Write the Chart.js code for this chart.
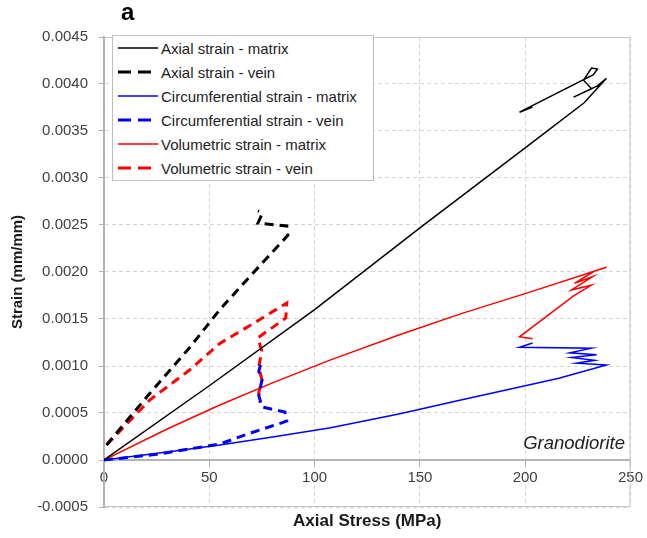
<!DOCTYPE html>
<html><head><meta charset="utf-8">
<script src="https://cdn.jsdelivr.net/npm/chart.js@4.4.1/dist/chart.umd.min.js"></script>
<style>
html,body{margin:0;padding:0;background:#fff;}
#wrap{position:relative;width:647px;height:538px;font-family:"Liberation Sans",Arial,sans-serif;overflow:hidden;}
canvas{position:absolute;left:0;top:0;}
#panel{position:absolute;left:121px;top:0px;font-size:24px;font-weight:bold;line-height:24px;color:#000;}
#rock{position:absolute;right:22px;top:434px;font-size:18.5px;font-style:italic;line-height:18px;color:#222;}
#legend{position:absolute;left:112px;top:35px;width:260px;height:144px;border:1px solid #bdbdbd;background:#fff;}
.row{height:24px;display:flex;align-items:center;font-size:15px;color:#222;white-space:nowrap;}
.row svg{margin-left:5px;margin-right:3px;flex:none;}
</style></head><body>
<div id="wrap"><canvas id="c" width="647" height="538"></canvas>
<div id="legend"></div><div id="panel">a</div><div id="rock">Granodiorite</div></div>
<script>
// ---- tick labels ----
const xTicks = [0, 50, 100, 150, 200, 250];
const yTicks = [-0.0005, 0, 0.0005, 0.001, 0.0015, 0.002, 0.0025, 0.003, 0.0035, 0.004, 0.0045];

// ---- series names ----
const seriesNames = [
  'Axial strain - matrix', 'Axial strain - vein',
  'Circumferential strain - matrix', 'Circumferential strain - vein',
  'Volumetric strain - matrix', 'Volumetric strain - vein'
];

// ---- series values (x: axial stress MPa, y: strain mm/mm) ----
const axialMatrixStress = [0, 50, 100, 150, 200, 228, 238.6, 234.3, 223.0, 231.5, 227.7, 231.5, 234.3, 232.4, 197.3, 203.5];
const axialMatrixStrain = [0, 0.00079, 0.0016, 0.00247, 0.00332, 0.0038, 0.00406, 0.00398, 0.00386, 0.00395, 0.00404, 0.00417, 0.00416, 0.0041, 0.0037, 0.003755];

const axialVeinStress = [1.2, 21.8, 40.8, 55, 70, 87.3, 86.8, 73.1, 74.5, 75.0, 73.1];
const axialVeinStrain = [0.00016, 0.00071, 0.0012, 0.0016, 0.00197, 0.00239, 0.00249, 0.00252, 0.00259, 0.00263, 0.00265];

const circMatrixStress = [0, 30, 55, 80, 107, 140, 170, 200, 216, 238.6, 224.4, 232.9, 222.0, 233.9, 221.1, 231.5, 197.3, 203.5];
const circMatrixStrain = [0, 0.000085, 0.00016, 0.000245, 0.00034, 0.00049, 0.00064, 0.00079, 0.00087, 0.00101, 0.00103, 0.00106, 0.00109, 0.00112, 0.00114, 0.00119, 0.0012, 0.001245];

const circVeinStress = [0, 25, 55, 70, 85, 86.8, 85.9, 75.0, 73.5, 75.0, 73.5, 74.5];
const circVeinStrain = [0, 0.00006, 0.00017, 0.00029, 0.0004, 0.000415, 0.00051, 0.000564, 0.00069, 0.00085, 0.00094, 0.00103];

const volMatrixStress = [0, 30, 55, 80, 107, 140, 170, 200, 238.6, 232.9, 223.4, 232.0, 222.0, 231.5, 223.0, 197.3, 203.5];
const volMatrixStrain = [0, 0.00033, 0.000585, 0.00082, 0.00106, 0.00133, 0.00156, 0.00177, 0.00205, 0.00201, 0.00188, 0.00195, 0.00181, 0.00186, 0.001745, 0.00131, 0.00129];

const volVeinStress = [1.2, 21.8, 40.8, 55, 70, 86.8, 86.3, 73.1, 74.9, 73.5, 75.0, 73.5, 74.0];
const volVeinStrain = [0.00016, 0.00064, 0.00096, 0.00124, 0.00144, 0.00167, 0.00151, 0.0013, 0.00116, 0.00099, 0.00085, 0.00072, 0.00061];

const pts = (xs, ys) => xs.map((x, i) => ({x: x, y: ys[i]}));
const BLACK = '#000000', BLUE = '#0000ff', RED = '#ff0000';
const DASH = [9, 6];

const styles = [
  {c: BLACK, w: 1.5, d: []}, {c: BLACK, w: 3, d: DASH},
  {c: BLUE, w: 1.5, d: []},  {c: BLUE, w: 3, d: DASH},
  {c: RED, w: 1.5, d: []},   {c: RED, w: 3, d: DASH}
];
const seriesData = [
  pts(axialMatrixStress, axialMatrixStrain), pts(axialVeinStress, axialVeinStrain),
  pts(circMatrixStress, circMatrixStrain), pts(circVeinStress, circVeinStrain),
  pts(volMatrixStress, volMatrixStrain), pts(volVeinStress, volVeinStrain)
];

const datasets = seriesData.map((d, i) => ({
  label: seriesNames[i], data: d, showLine: true,
  borderColor: styles[i].c, backgroundColor: styles[i].c,
  borderWidth: styles[i].w, borderDash: styles[i].d,
  pointRadius: 0, pointHoverRadius: 0, tension: 0, fill: false
}));

// HTML legend
const leg = document.getElementById('legend');
seriesNames.forEach((n, i) => {
  const row = document.createElement('div'); row.className = 'row';
  const s = styles[i];
  const dash = s.d.length ? 'stroke-dasharray="13 7"' : '';
  row.innerHTML = '<svg width="40" height="6"><line x1="0" y1="3" x2="40" y2="3" stroke="' + s.c + '" stroke-width="' + s.w + '" ' + dash + '/></svg><span>' + n + '</span>';
  leg.appendChild(row);
});

const frame = {
  id: 'frame',
  beforeDatasetsDraw(chart) {
    const {ctx, chartArea: a} = chart;
    ctx.save(); ctx.strokeStyle = '#c4c4c4'; ctx.lineWidth = 1;
    ctx.beginPath();
    ctx.moveTo(a.left, a.top + 0.5); ctx.lineTo(a.right - 0.5, a.top + 0.5);
    ctx.lineTo(a.right - 0.5, a.bottom - 0.5); ctx.lineTo(a.left, a.bottom - 0.5);
    ctx.stroke(); ctx.restore();
  }
};

const tickFont = {family: '"Liberation Sans", Arial, sans-serif', size: 15};
const xTitleFont = {family: '"Liberation Sans", Arial, sans-serif', size: 17, weight: 'bold'};
const yTitleFont = {family: '"Liberation Sans", Arial, sans-serif', size: 15, weight: 'bold'};

new Chart(document.getElementById('c'), {
  type: 'scatter',
  data: {datasets: datasets},
  plugins: [frame],
  options: {
    responsive: false, animation: false, devicePixelRatio: 1,
    layout: {padding: {top: 37, right: 16, left: 0, bottom: 0}},
    plugins: {legend: {display: false}, tooltip: {enabled: false}},
    scales: {
      x: {
        type: 'linear', position: {y: 0}, min: 0, max: 250,
        afterBuildTicks: s => { s.ticks = xTicks.map(v => ({value: v})); },
        afterFit: s => { s.height = 0; },
        ticks: {font: tickFont, color: '#404040', padding: 4, autoSkip: false, maxRotation: 0, callback: v => String(v)},
        grid: {color: '#d4d4d4', lineWidth: 1, tickLength: 5, tickColor: '#b0b0b0'},
        border: {display: true, color: '#b3b3b3', width: 2, dash: [4, 3]},
        title: {display: false}
      },
      x2: {
        type: 'linear', position: 'bottom', min: 0, max: 250,
        afterFit: s => { s.height = 31; },
        ticks: {display: false}, grid: {display: false}, border: {display: false},
        title: {display: true, text: 'Axial Stress (MPa)', font: xTitleFont, color: '#1a1a1a', padding: {top: 0, bottom: 6}}
      },
      y: {
        type: 'linear', position: 'left', min: -0.0005, max: 0.0045,
        afterBuildTicks: s => { s.ticks = yTicks.map(v => ({value: v})); },
        afterFit: s => { s.width = 104; },
        ticks: {font: tickFont, color: '#404040', padding: 11, callback: v => v.toFixed(4)},
        grid: {color: '#d4d4d4', lineWidth: 1, tickLength: 5, tickColor: '#b0b0b0'},
        border: {display: true, color: '#b3b3b3', width: 2, dash: [4, 3]},
        title: {display: true, text: 'Strain (mm/mm)', font: yTitleFont, color: '#1a1a1a', padding: {top: 9, bottom: 0}}
      }
    }
  }
});
</script>
</body></html>
